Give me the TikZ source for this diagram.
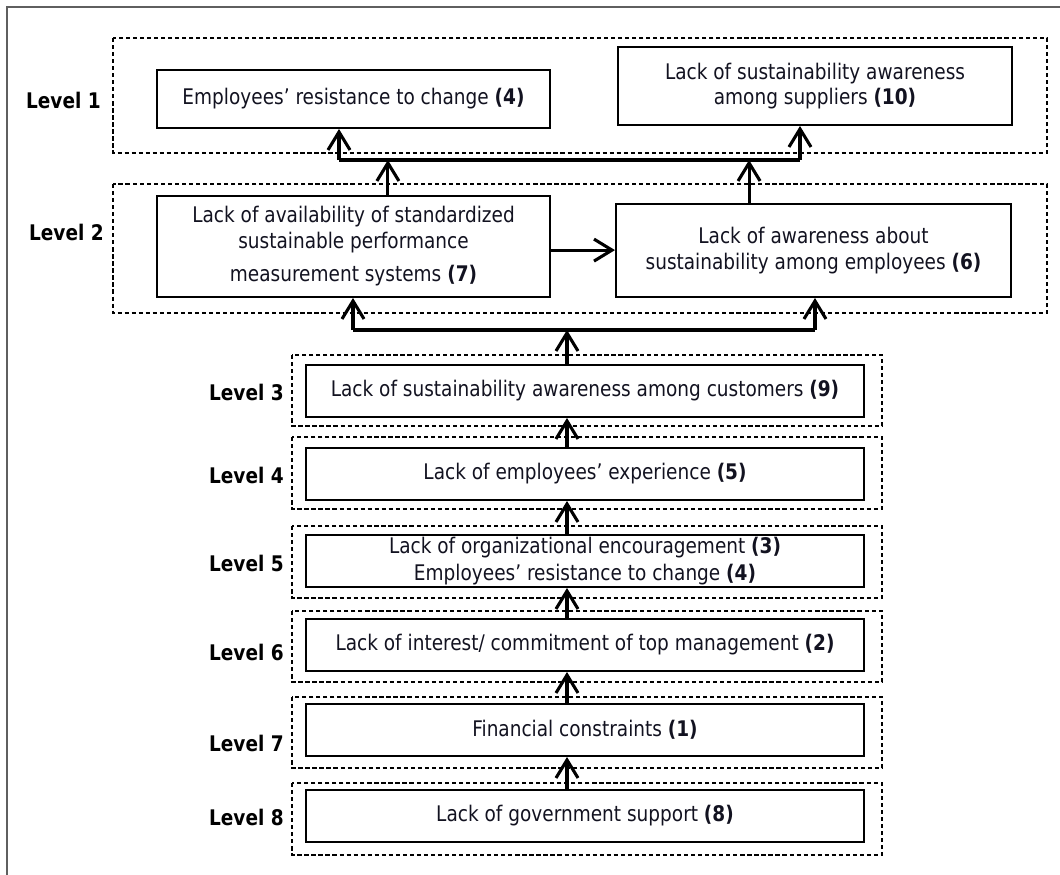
\documentclass[tikz,border=0pt]{standalone}
\usepackage{fontspec}
\setmainfont{DejaVu Sans}[FakeStretch=0.86]
\usetikzlibrary{arrows.meta}
\definecolor{textnavy}{RGB}{18,18,32}
\definecolor{framegray}{RGB}{95,95,95}

\begin{document}
\begin{tikzpicture}[
    x=0.025cm, y=-0.025cm,
    >={Straight Barb[length=4.5mm, width=5.5mm]},
    barrier/.style={draw, line width=1.4pt, align=center, inner sep=0pt, text=textnavy,
        font=\fontsize{15.3}{18}\selectfont},
    lowbarrier/.style={barrier, minimum width=13.95cm, minimum height=1.3cm},
    levelbox/.style={line width=0.9pt, dash pattern=on 3pt off 2pt},
    levellabel/.style={anchor=east, inner sep=0pt, font=\fontsize{15.3}{17}\selectfont\bfseries},
    flow/.style={->, line width=2.2pt},
    bus/.style={line width=2.6pt},
]
    \useasboundingbox (0,0) rectangle (1060,875);
    \draw[framegray, line width=1.5pt] (7,875) -- (7,7) -- (1060,7);

    % level frames
    \draw[levelbox] (113,38) rectangle (1047,153);
    \draw[levelbox] (113,184) rectangle (1047,313);
    \draw[levelbox] (292,355) rectangle (882,426);
    \draw[levelbox] (292,437) rectangle (882,509);
    \draw[levelbox] (292,526) rectangle (882,598);
    \draw[levelbox] (292,611) rectangle (882,682);
    \draw[levelbox] (292,697) rectangle (882,768);
    \draw[levelbox] (292,783) rectangle (882,855);

    \node[levellabel] (lvl1) at (101,100) {Level 1};
    \node[levellabel] (lvl2) at (104,232) {Level 2};
    \node[levellabel] (lvl3) at (284,392) {Level 3};
    \node[levellabel] (lvl4) at (284,475) {Level 4};
    \node[levellabel] (lvl5) at (284,563) {Level 5};
    \node[levellabel] (lvl6) at (284,652) {Level 6};
    \node[levellabel] (lvl7) at (284,743) {Level 7};
    \node[levellabel] (lvl8) at (284,817) {Level 8};

    % barriers
    \node[barrier, minimum width=9.825cm, minimum height=1.45cm] (resist) at (353.5,99)
        {Employees’ resistance to change \textbf{(4)}};
    \node[barrier, minimum width=9.825cm, minimum height=1.95cm] (suppliers) at (815,86)
        {Lack of sustainability awareness\\among suppliers \textbf{(10)}};
    \node[barrier, minimum width=9.825cm, minimum height=2.525cm] (standards) at (353.5,246.5)
        {Lack of availability of standardized\\sustainable performance\\[6pt]measurement systems \textbf{(7)}};
    \node[barrier, minimum width=9.875cm, minimum height=2.325cm] (staffaware) at (813.5,250.5)
        {Lack of awareness about\\sustainability among employees \textbf{(6)}};
    \node[lowbarrier] (customers) at (585,391)
        {Lack of sustainability awareness among customers \textbf{(9)}};
    \node[lowbarrier] (experience) at (585,474)
        {Lack of employees’ experience \textbf{(5)}};
    \node[lowbarrier, font=\fontsize{15.3}{19}\selectfont] (encourage) at (585,561)
        {Lack of organizational encouragement \textbf{(3)}\\Employees’ resistance to change \textbf{(4)}};
    \node[lowbarrier] (topmgmt) at (585,645)
        {Lack of interest/ commitment of top management \textbf{(2)}};
    \node[lowbarrier] (finance) at (585,730)
        {Financial constraints \textbf{(1)}};
    \node[lowbarrier] (government) at (585,816)
        {Lack of government support \textbf{(8)}};

    % upper bus
    \coordinate (busTopL) at (339,160);
    \coordinate (busTopR) at (800,160);
    \draw[bus] (busTopL) -- (busTopR);
    \draw[flow] (busTopL) -- (resist.south -| busTopL);
    \draw[flow] (busTopR) -- (suppliers.south -| busTopR);
    \draw[flow] ([xshift=0.86cm]standards.north) -- ([xshift=0.86cm]standards.north |- busTopL);
    \draw[flow] ([xshift=-1.61cm]staffaware.north) -- ([xshift=-1.61cm]staffaware.north |- busTopR);
    \draw[flow] ([yshift=-0.09cm]standards.east) -- ([yshift=-0.09cm]standards.east -| staffaware.west);

    % lower bus
    \coordinate (busLowL) at (353,330);
    \coordinate (busLowR) at (815,330);
    \draw[bus] (busLowL) -- (busLowR);
    \draw[flow] (busLowL) -- (standards.south -| busLowL);
    \draw[flow] (busLowR) -- (staffaware.south -| busLowR);
    \draw[flow] ([xshift=-0.45cm]customers.north) -- ([xshift=-0.45cm]customers.north |- busLowL);

    % chain of levels
    \foreach \lower/\upper in {experience/customers, encourage/experience, topmgmt/encourage,
        finance/topmgmt, government/finance}
        \draw[flow] ([xshift=-0.45cm]\lower.north) -- ([xshift=-0.45cm]\upper.south);
\end{tikzpicture}
\end{document}
